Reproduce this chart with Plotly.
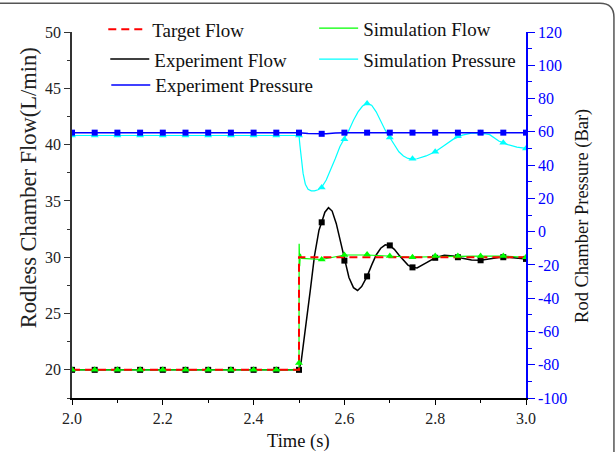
import plotly.graph_objects as go

# ---------------- data ----------------
marker_t = [2.0, 2.05, 2.1, 2.15, 2.2, 2.25, 2.3, 2.35, 2.4, 2.45, 2.5,
            2.55, 2.6, 2.65, 2.7, 2.75, 2.8, 2.85, 2.9, 2.95, 3.0]

target_t = [2.0, 2.5, 2.5, 3.0]
target_flow = [20, 20, 30, 30]

exp_flow_t = [2.0, 2.5, 2.505, 2.511, 2.518, 2.525, 2.534, 2.544, 2.55, 2.557,
              2.565, 2.573, 2.582, 2.59, 2.6, 2.61, 2.62, 2.629, 2.638, 2.65,
              2.66, 2.67, 2.68, 2.69, 2.7, 2.71, 2.72, 2.73, 2.74, 2.75, 2.76,
              2.78, 2.8, 2.82, 2.84, 2.86, 2.88, 2.9, 2.92, 2.94, 2.96, 2.98, 3.0]
exp_flow = [20, 20, 20.8, 22.6, 24.8, 27.1, 30.1, 32.4, 33.1, 34.0,
            34.4, 34.1, 33.0, 31.6, 29.7, 28.2, 27.3, 27.05, 27.4, 28.3,
            29.3, 30.2, 30.8, 31.1, 31.05, 30.7, 30.2, 29.7, 29.3, 29.1, 29.05,
            29.5, 29.95, 30.18, 30.1, 29.9, 29.75, 29.73, 29.85, 29.97, 30.0, 29.93, 29.85]
exp_flow_mk = [20, 20, 20, 20, 20, 20, 20, 20, 20, 20, 20,
               33.1, 29.7, 28.3, 31.05, 29.1, 29.95, 30.0, 29.73, 30.0, 29.85]

sim_flow_t = [2.0, 2.5, 2.5003, 2.5015, 2.503, 2.506, 2.55, 2.6, 2.65, 2.7,
              2.75, 2.8, 2.85, 2.9, 2.95, 3.0]
sim_flow = [20, 20, 31.2, 29.2, 30.3, 29.9, 29.8, 30.2, 30.2, 30.1,
            30.0, 30.05, 30.1, 30.1, 30.1, 30.0]
sim_flow_mk = [20, 20, 20, 20, 20, 20, 20, 20, 20, 20, 20.6,
               29.8, 30.2, 30.25, 30.1, 30.0, 30.1, 30.1, 30.1, 30.1, 30.0]

exp_pres_t = [2.0, 2.5, 2.52, 2.54, 2.56, 2.58, 2.6, 3.0]
exp_pres = [59.5, 59.5, 59.0, 58.8, 58.9, 59.3, 59.5, 59.5]
exp_pres_mk = [59.5, 59.5, 59.5, 59.5, 59.5, 59.5, 59.5, 59.5, 59.5, 59.5, 59.5,
               58.8, 59.5, 59.5, 59.5, 59.5, 59.5, 59.5, 59.5, 59.5, 59.5]

sim_pres_t = [2.0, 2.5, 2.502, 2.505, 2.509, 2.514, 2.52, 2.527, 2.534, 2.542,
              2.55, 2.56, 2.57, 2.58, 2.59, 2.6, 2.61, 2.62, 2.63, 2.64, 2.65,
              2.66, 2.67, 2.68, 2.69, 2.7, 2.71, 2.72, 2.73, 2.74, 2.75, 2.76,
              2.78, 2.8, 2.82, 2.84, 2.86, 2.88, 2.9, 2.92, 2.94, 2.96, 2.98, 3.0]
sim_pres = [57.8, 57.8, 52, 44, 35, 28.5, 25.5, 24.5, 24.5, 25.2,
            26.6, 31, 37, 44, 51, 55.6, 61, 67, 72, 75.5, 77,
            76, 72, 66.5, 61, 56.6, 52, 48, 45.5, 44, 43.6, 43.8,
            45.5, 48, 51.8, 55.6, 58, 59.2, 59.3, 58.3, 54.5, 52.3, 50.8, 50]
sim_pres_mk = [57.8, 57.8, 57.8, 57.8, 57.8, 57.8, 57.8, 57.8, 57.8, 57.8, 57.8,
               26.6, 55.6, 77, 56.6, 43.8, 48, 57.4, 59.3, 53.4, 50]

pres_tickvals = [-100, -80, -60, -40, -20, 0, 20, 40, 60, 80, 100, 120]
pres_ticktext = ["-100", "-80", "-60", "-40", "-20", "0", "20", "40", "60", "80", "100", "120"]

FONT = "Liberation Serif"

fig = go.Figure()

# pressure traces (right axis)
fig.add_trace(go.Scatter(x=sim_pres_t, y=sim_pres, mode="lines", yaxis="y2",
                         line=dict(color="#00FFFF", width=1.2),
                         name="Simulation Pressure", legend="legend5"))
fig.add_trace(go.Scatter(x=marker_t, y=sim_pres_mk, mode="markers", yaxis="y2",
                         marker=dict(symbol="triangle-up", size=7, color="#00FFFF"),
                         showlegend=False))
fig.add_trace(go.Scatter(x=exp_pres_t, y=exp_pres, mode="lines", yaxis="y2",
                         line=dict(color="#0000FF", width=1.5),
                         name="Experiment Pressure", legend="legend3"))
fig.add_trace(go.Scatter(x=marker_t, y=exp_pres_mk, mode="markers", yaxis="y2",
                         marker=dict(symbol="square", size=6, color="#0000FF"),
                         showlegend=False))

# flow traces (left axis)
fig.add_trace(go.Scatter(x=exp_flow_t, y=exp_flow, mode="lines",
                         line=dict(color="#000000", width=1.5),
                         name="Experiment Flow", legend="legend2"))
fig.add_trace(go.Scatter(x=marker_t, y=exp_flow_mk, mode="markers",
                         marker=dict(symbol="square", size=6, color="#000000"),
                         showlegend=False))
fig.add_trace(go.Scatter(x=sim_flow_t, y=sim_flow, mode="lines",
                         line=dict(color="#00FF00", width=1.2),
                         name="Simulation Flow", legend="legend4"))
fig.add_trace(go.Scatter(x=target_t, y=target_flow, mode="lines",
                         line=dict(color="#FF0000", width=2, dash="8px,5px"),
                         name="Target Flow", legend="legend"))
fig.add_trace(go.Scatter(x=marker_t, y=sim_flow_mk, mode="markers",
                         marker=dict(symbol="triangle-up", size=7, color="#00FF00"),
                         showlegend=False))

# helpers for placing items in pixel space
L, R, T, B = 71.7, 526.0, 31.7, 398.3
def px(x):
    return (x - L) / (R - L)
def py(y):
    return (B - y) / (B - T)

def leg(x, y):
    return dict(x=px(x), y=py(y), xanchor="left", yanchor="middle",
                bgcolor="rgba(0,0,0,0)", borderwidth=0, itemwidth=39,
                font=dict(family=FONT, size=19, color="#111"))

fig.update_layout(
    width=616, height=452,
    margin=dict(l=72, r=90, t=32, b=54, autoexpand=False),
    paper_bgcolor="white", plot_bgcolor="white",
    font=dict(family=FONT, size=16, color="#222"),
    legend=leg(103, 29),
    legend2=leg(105, 59),
    legend3=leg(106, 85),
    legend4=leg(314, 28),
    legend5=leg(314, 59),
    xaxis=dict(range=[2.0, 3.0], dtick=0.2, tick0=2.0, tickformat=".1f",
               showgrid=False, zeroline=False, showline=True,
               linecolor="#000", linewidth=1.5, ticks="outside", ticklen=5,
               tickcolor="#000", tickwidth=1.2,
               minor=dict(dtick=0.1, ticks="outside", ticklen=3, tickcolor="#000"),
               tickfont=dict(family=FONT, size=16, color="#222")),
    yaxis=dict(range=[17.5, 50], dtick=5, tick0=0,
               showgrid=False, zeroline=False, showline=True,
               linecolor="#333", linewidth=1.5, ticks="outside", ticklen=6,
               tickcolor="#333", tickwidth=1.2,
               minor=dict(dtick=2.5, ticks="outside", ticklen=3, tickcolor="#333"),
               tickfont=dict(family=FONT, size=16, color="#222")),
    yaxis2=dict(range=[-100, 120], tickmode="array", tickvals=pres_tickvals,
                ticktext=pres_ticktext, overlaying="y", side="right",
                showgrid=False, zeroline=False, showline=True,
                linecolor="#0000FF", linewidth=1.5, ticks="outside", ticklen=7,
                tickcolor="#0000FF", tickwidth=1.2,
                minor=dict(dtick=10, tick0=0, ticks="outside", ticklen=4, tickcolor="#0000FF"),
                tickfont=dict(family=FONT, size=16, color="#0000FF")),
)

# axis titles as annotations (precise placement)
fig.add_annotation(text="Rodless Chamber Flow(L/min)", xref="paper", yref="paper",
                   x=px(28), y=py(188), textangle=-90, showarrow=False,
                   font=dict(family=FONT, size=22.5, color="#222"),
                   xanchor="center", yanchor="middle")
fig.add_annotation(text="Rod Chamber Pressure (Bar)", xref="paper", yref="paper",
                   x=px(583), y=py(216), textangle=-90, showarrow=False,
                   font=dict(family=FONT, size=18.5, color="#111"),
                   xanchor="center", yanchor="middle")
fig.add_annotation(text="Time (s)", xref="paper", yref="paper",
                   x=px(298), y=py(429), showarrow=False,
                   font=dict(family=FONT, size=18.5, color="#111"),
                   xanchor="center", yanchor="top")

# outer frame with rounded top-right corner
fig.add_shape(type="path", xref="paper", yref="paper",
              path=f"M {px(-5)},{py(3)} L {px(600)},{py(3)} Q {px(614)},{py(3)} {px(614)},{py(17)} L {px(614)},{py(470)}",
              line=dict(color="#555", width=1.5))

fig.write_html("out.html")
